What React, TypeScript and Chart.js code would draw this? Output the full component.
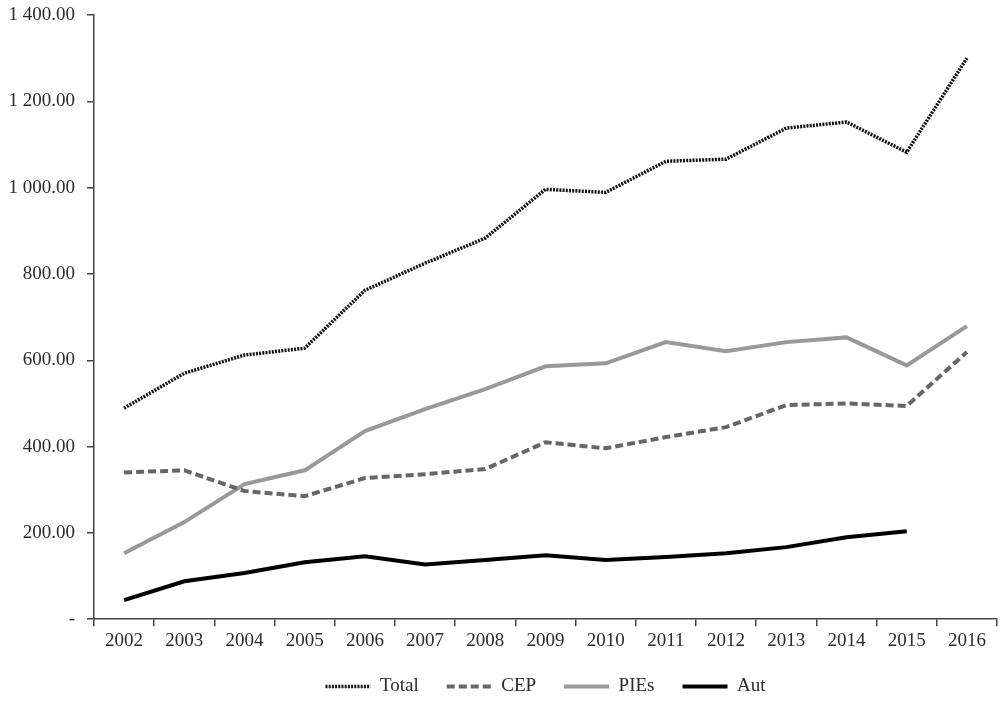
import React, { useEffect, useRef } from "react";
import { Chart, registerables } from "chart.js";

Chart.register(...registerables);

const years = ["2002","2003","2004","2005","2006","2007","2008","2009","2010","2011","2012","2013","2014","2015","2016"];
const totalValues = [489, 570, 612, 628, 762, 825, 883, 996, 989, 1061, 1066, 1138, 1152, 1082, 1300];
const cepValues = [340, 345, 297, 285, 327, 336, 348, 410, 396, 422, 445, 496, 500, 494, 619];
const piesValues = [153, 225, 313, 345, 436, 487, 533, 586, 593, 642, 621, 642, 653, 588, 679];
const autValues = [44, 88, 107, 132, 146, 127, 137, 148, 137, 144, 153, 167, 190, 204, null];

const FONT = "'Liberation Serif', 'Times New Roman', serif";
const TEXT = "#2b2b2b";

function fmt(v: number): string {
  if (v === 0) return "-";
  const s = v.toFixed(2);
  const [i, d] = s.split(".");
  return i.replace(/\B(?=(\d{3})+(?!\d))/g, " ") + "." + d;
}

export default function App() {
  const ref = useRef<HTMLCanvasElement | null>(null);
  useEffect(() => {
    if (!ref.current) return;
    const chart = new Chart(ref.current, {
      type: "line",
      data: {
        labels: years,
        datasets: [
          { label: "Total", data: totalValues, borderColor: "#111", borderWidth: 3.5, borderDash: [2, 1.2], pointRadius: 0, tension: 0 },
          { label: "CEP", data: cepValues, borderColor: "#666", borderWidth: 4, borderDash: [8, 4], pointRadius: 0, tension: 0 },
          { label: "PIEs", data: piesValues, borderColor: "#999", borderWidth: 4, pointRadius: 0, tension: 0 },
          { label: "Aut", data: autValues, borderColor: "#000", borderWidth: 4, pointRadius: 0, tension: 0 },
        ],
      },
      options: {
        animation: false,
        responsive: false,
        maintainAspectRatio: false,
        layout: { padding: { top: 15, right: 11, left: 0, bottom: -4 } },
        plugins: {
          tooltip: { enabled: false },
          legend: {
            position: "bottom",
            fullSize: false,
            labels: {
              usePointStyle: true,
              pointStyle: "line",
              pointStyleWidth: 45,
              padding: 28,
              color: TEXT,
              font: { family: FONT, size: 19 },
              generateLabels: (c: any) => {
                const items = Chart.defaults.plugins.legend.labels.generateLabels(c);
                return items.map((it: any) => {
                  const ds: any = c.data.datasets[it.datasetIndex];
                  return {
                    ...it,
                    lineDash: ds.borderDash || [],
                    lineWidth: ds.borderWidth,
                    strokeStyle: ds.borderColor,
                    fillStyle: ds.borderColor,
                    lineCap: "butt",
                    pointStyle: "line",
                  };
                });
              },
            },
          },
        },
        scales: {
          x: {
            offset: true,
            afterFit: (s: any) => { s.height -= 6; },
            grid: { offset: true, drawOnChartArea: false, drawTicks: true, tickLength: 7, color: "#444", lineWidth: 1.5 },
            border: { color: "#444", width: 1.5 },
            ticks: { color: TEXT, font: { family: FONT, size: 19 }, padding: 3, maxRotation: 0 },
          },
          y: {
            min: 0,
            max: 1400,
            afterFit: (s: any) => { s.width = 94; s.paddingTop = 0; s.paddingBottom = 0; },
            grid: { drawOnChartArea: false, drawTicks: true, tickLength: 7, color: "#444", lineWidth: 1.5 },
            border: { color: "#444", width: 1.5 },
            ticks: { stepSize: 200, color: TEXT, font: { family: FONT, size: 19 }, padding: 12, callback: (v: any) => fmt(Number(v)) },
          },
        },
      },
    });
    return () => chart.destroy();
  }, []);
  return (
    <div style={{ position: "absolute", left: 0, top: 0, width: 1008, height: 702, background: "#fff" }}>
      <canvas ref={ref} width={1008} height={702} style={{ width: 1008, height: 702 }} />
    </div>
  );
}
